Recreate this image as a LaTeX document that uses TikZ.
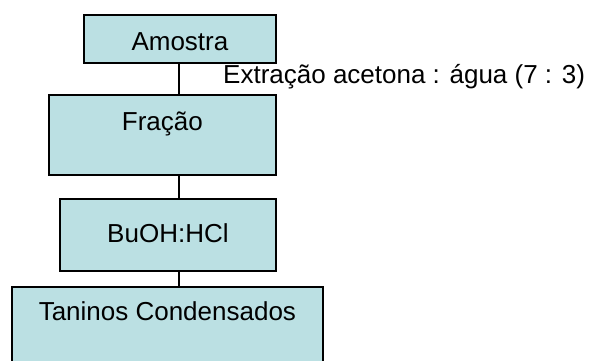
\documentclass[tikz,border=0pt]{standalone}
\usepackage{fontspec}
\setmainfont{Liberation Sans}
\usetikzlibrary{positioning}
\definecolor{caixa}{RGB}{187,224,227}
\begin{document}
\begin{tikzpicture}[x=1pt,y=-1pt,line join=miter,
	font=\fontsize{26}{30}\selectfont,
	etapa/.style={draw,line width=1.8pt,fill=caixa,inner xsep=0pt,inner ysep=0pt,anchor=north west}]
	%Fluxograma
	\useasboundingbox (0,0) rectangle (591,360);
	\clip (0,0) rectangle (591,360);
	\def\xl{179}
	\node[etapa,minimum width=192pt,text height=36pt,text depth=12pt] (amostra) at (83,14) {Amostra};
	\node[etapa,minimum width=227pt,text height=36pt,text depth=44pt] (fracao) at (48,94) {Fração};
	\node[etapa,minimum width=216pt,text height=44pt,text depth=28pt] (buoh) at (59,198) {BuOH:HCl};
	\node[etapa,minimum width=311pt,text height=34pt,text depth=66pt] (taninos) at (11,286) {Taninos Condensados};
	\node[anchor=base west,inner sep=0pt] (extr) at (223,83) {Extração acetona : água (7 : 3)};
	%ligações
	\draw[line width=1.8pt] (amostra.south -| \xl,0)--(fracao.north -| \xl,0);
	\draw[line width=1.8pt] (fracao.south -| \xl,0)--(buoh.north -| \xl,0);
	\draw[line width=1.8pt] (buoh.south -| \xl,0)--(taninos.north -| \xl,0);
\end{tikzpicture}
\end{document}
